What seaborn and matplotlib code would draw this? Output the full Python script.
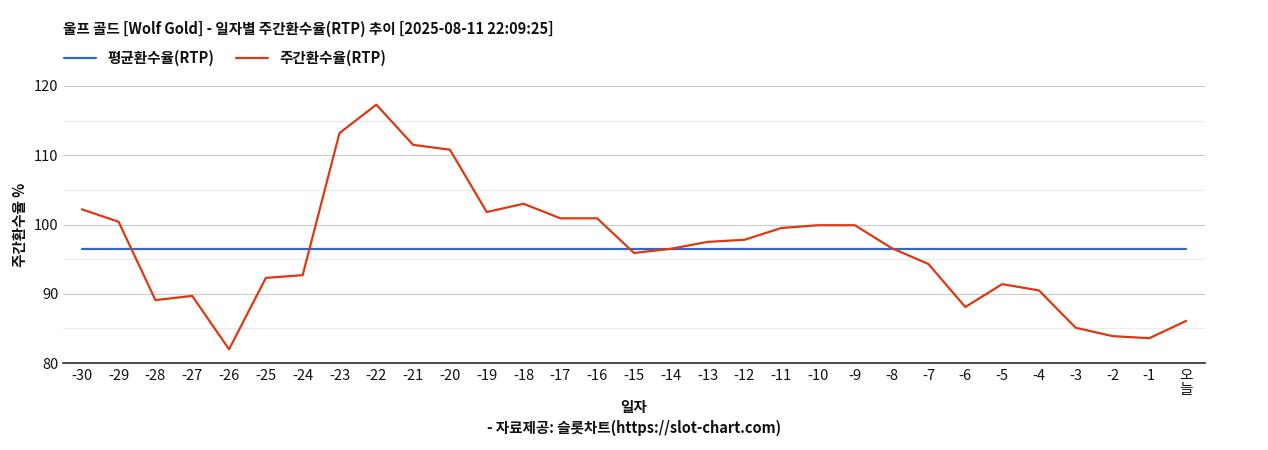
import matplotlib
matplotlib.use("Agg")
import matplotlib.pyplot as plt
import numpy as np
import pandas as pd
import seaborn as sns
from matplotlib.ticker import MultipleLocator

DAYS = [str(d) for d in range(-30, 0)] + ["오\n늘"]
WEEKLY_RTP = [102.2, 100.4, 89.1, 89.7, 82.0, 92.3, 92.7, 113.2, 117.3, 111.5,
              110.8, 101.8, 103.0, 100.9, 100.9, 95.9, 96.5, 97.5, 97.8, 99.5,
              99.9, 99.9, 96.6, 94.3, 88.1, 91.4, 90.5, 85.1, 83.9, 83.6, 86.1]
AVG_RTP = 96.5

sns.set_theme(style="white")
plt.rcParams["font.family"] = ["Noto Sans CJK KR", "Noto Sans CJK JP", "Noto Sans CJK SC", "DejaVu Sans"]
plt.rcParams["text.color"] = "#111111"
plt.rcParams["axes.labelcolor"] = "#111111"
plt.rcParams["xtick.color"] = "#111111"
plt.rcParams["ytick.color"] = "#111111"

df = pd.DataFrame({"x": np.arange(len(DAYS)), "weekly": WEEKLY_RTP, "avg": [AVG_RTP] * len(DAYS)})

fig = plt.figure(figsize=(12.68, 4.5), dpi=100)
ax = fig.add_axes([0.05, 0.193, 0.9, 0.616])

sns.lineplot(data=df, x="x", y="avg", ax=ax, color="#3366cc", linewidth=1.6, label="평균환수율(RTP)")
sns.lineplot(data=df, x="x", y="weekly", ax=ax, color="#dc3912", linewidth=1.6, label="주간환수율(RTP)")

ax.set_ylim(80, 120)
ax.set_xlim(-0.5, len(DAYS) - 0.5)
ax.yaxis.set_major_locator(MultipleLocator(10))
ax.yaxis.set_minor_locator(MultipleLocator(5))
ax.grid(axis="y", which="major", color="#cccccc", linewidth=0.8)
ax.grid(axis="y", which="minor", color="#ebebeb", linewidth=0.8)
ax.set_axisbelow(True)
ax.set_xticks(df["x"])
ax.set_xticklabels(DAYS, fontsize=10.5, linespacing=1.0)
ax.tick_params(axis="y", labelsize=10.5, length=0)
ax.tick_params(axis="x", length=0, pad=4)
for s in ["top", "right", "left"]:
    ax.spines[s].set_visible(False)
ax.spines["bottom"].set_color("#333333")

ax.set_ylabel("주간환수율 %", fontsize=10.5, fontweight="bold")
ax.set_xlabel("일자\n- 자료제공: 슬롯차트(https://slot-chart.com)", fontsize=10.5, fontweight="bold",
              labelpad=2, linespacing=1.3)

ax.legend(loc="lower left", bbox_to_anchor=(-0.005, 1.05), ncol=2, frameon=False,
          prop={"weight": "bold", "size": 10.5}, handlelength=2.2, columnspacing=1.5, borderaxespad=0)
fig.text(0.05, 0.925, "울프 골드 [Wolf Gold] - 일자별 주간환수율(RTP) 추이 [2025-08-11 22:09:25]",
         fontsize=10.5, fontweight="bold", ha="left")

fig.savefig("out.png", dpi=100)
